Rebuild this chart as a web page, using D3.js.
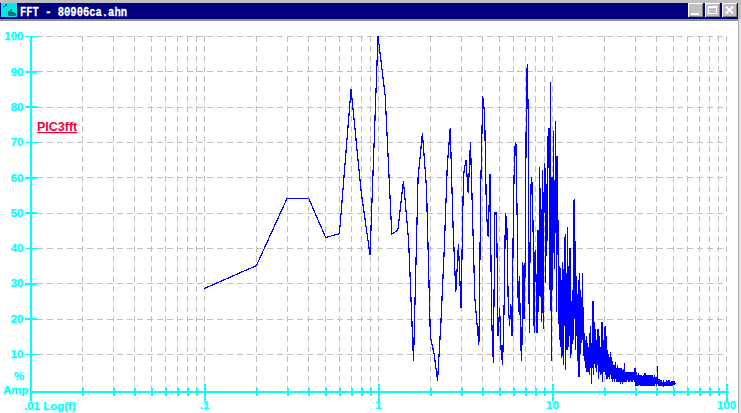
<!DOCTYPE html>
<html><head><meta charset="utf-8">
<script src="https://cdn.jsdelivr.net/npm/d3@7/dist/d3.min.js"></script>
<style>html,body{margin:0;padding:0;background:#fff;overflow:hidden}svg{display:block}</style>
</head><body><svg id="c" width="741" height="413"></svg>
<script>
const titleText = "FFT - 80906ca.ahn";
const seriesName = "PIC3fft";
const freqStep = 0.1;
const amplitudes = [
28.5,35,54,54,43,44,85,56,38,100,
83,44,45,59,42,8,60,72.5,57,15,
10,2.5,19,39,63,74,46,27.5,41,23,
60.6,65,55.5,70,48,26,19,12.5,58.6,83,
78,50,43,61,20,7.5,50,50,15,23,
11,7,22,50,47,25,18,24,15,51,
68,70,50,22,32,13,8,36,20,33,
73,92,78,16,46,60,58,43,16,39.5,
31,16,45,22,63,36,19,62,17,55,
64,30,58,42,72,74,28,87,8,60,
28,73,34,55,76,22,66,38,48,14,
35,12,31,9,36,7,34,18,44,5.5,
33,11,46,12,35,15,40,9,25,10,
28,14,38,54,20,42,11,32,15,27,
8,31,3.5,33,10,28,13,26,14,33,
15,22,9,16,8,14,6,15,5,13,
8,12,5,16,4,18,6,13,1.5,11,
6,25,4,18,10,19,6,17,8,14,
5,14,8,17,3,13,7,15,5,12,
4,16,6,19,2,15,8,13,5,14,
7,18,4,12,6,15,3,11,6,10,
5,9,3,8,5,10.5,4,8,3,9,
5,8,2,7,4,6,3,7,2,6,
4,7.7,3,6,2,5,3,7,2,5,
4,6,2,5,3,6,1.5,5,3,6,
2,4.5,3,5,1.5,5.5,3,4,2,7.4,
3,5,2,4.5,3,5,2,4,3,5,
2.5,4.5,3,5,2,4,3,4.5,2,5,
3,4.5,2.5,5,2,4,3,5,2.5,4.5,
2,4,3,4.5,2.5,5,2,4,3,6,
1,5.5,2,4,1,5,2,3.5,1.5,4,
1,3.5,2,4.5,1,3,2,4,1.5,3.5,
1,4,2,3,1.5,3.5,1,4,2,3,
1.5,3.5,1,4,2,3,1,3.5,2,3.5,
1,4.5,1.5,3,1,4,2,3,1,3.5,
2,4,1,3,1.5,4,1,3,2,3.5,
1,3,1.5,3.5,1,4,2,3,1,3.5,
2,3.5,1,3,1.5,4,1,3,2,3.5,
1.5,3,1,3.5,2,3,1,4,1.5,3,
2,3.5,1.5,3,2,3,1,3.5,2,3,
1.5,3,2,3.5,6.6,3,1.5,2.5,2,3,
1,2.5,1.5,3,1,2,1.5,2.5,1,2,
1.5,2,1,2.5,1,2,0.8,2,1.5,2,
1,2,0.8,1.5,1,2.5,1,1.5,0.8,2,
1,1.5,0.8,2,1,2.2,0.8,1.5,1,2,
1.2,2,1,2.5,0.8,1.5,1,2,1.2,1.5,
0.8,2,1,2.4,1,1.5,0.8,2,1.2,2.5,
1,2,0.9,1.5,1.2,2.2,1,1.8,1,2,
1.2,2,1,2.4,1.2,1.8,1,2.2,1.2,2,
1,2.2,1.2,2,1,2.4,1.3,2,1.2,2.2,
1.3,2,1.4,2.2,1.3,2,1.5,2.1,1.6,1.9];
const yTicks = [10,20,30,40,50,60,70,80,90,100];
const xMajor = [0.1,1,10,100];
const xLabels = {0.1:".1",1:"1",10:"10",100:"100"};
const xMinor = [2,3,4,5,6,7,8,9].flatMap(m=>[0.01,0.1,1,10].map(d=>+(m*d).toFixed(3)));
const xTicks = xMinor.concat(xMajor);

const CYAN="#00ffff", GRID="#c0c0c0", BLUE="#0000ff", NAVY="#000080", RED="#f0003c";
const FONT="'Liberation Sans',Arial,sans-serif";
const x = d3.scaleLog().domain([0.01,100]).range([30,726]);
const y = d3.scaleLinear().domain([0,100]).range([389.3,36]);
const axisY = 391.5;
const svg = d3.select("#c");

// window chrome
const chrome = svg.append("g").attr("shape-rendering","crispEdges");
chrome.append("rect").attr("width",741).attr("height",21).attr("fill","#c0c0c0");
chrome.append("rect").attr("x",0).attr("y",3).attr("width",738).attr("height",16).attr("fill",NAVY);
chrome.append("rect").attr("x",0).attr("y",19).attr("width",741).attr("height",2).attr("fill","#909090");
chrome.append("rect").attr("x",738).attr("y",19).attr("width",1).attr("height",394).attr("fill","#b0b0b0");
chrome.append("rect").attr("x",739).attr("y",19).attr("width",2).attr("height",394).attr("fill","#e0e0e0");
// icon
chrome.append("rect").attr("x",1).attr("y",3).attr("width",16).attr("height",14).attr("fill","#00e8e8");
[[3,6,1],[5,4,2],[8,11,5],[10,9,7],[12,12,4],[14,13,3]].forEach(([a,b,h])=>{
  chrome.append("rect").attr("x",a).attr("y",b).attr("width",2).attr("height",h).attr("fill","#007878");
});
// buttons
[688,705,722].forEach(bx=>{
  chrome.append("rect").attr("x",bx).attr("y",3).attr("width",15).attr("height",14).attr("fill","#ffffff");
  chrome.append("rect").attr("x",bx+1).attr("y",4).attr("width",14).attr("height",13).attr("fill","#808080");
  chrome.append("rect").attr("x",bx+1).attr("y",4).attr("width",13).attr("height",12).attr("fill","#c0c0c0");
});
chrome.append("rect").attr("x",691).attr("y",13).attr("width",8).attr("height",2).attr("fill","#fff");
chrome.append("rect").attr("x",708.5).attr("y",6.5).attr("width",8).attr("height",7).attr("fill","none").attr("stroke","#fff").attr("stroke-width",1);
chrome.append("rect").attr("x",708).attr("y",6).attr("width",9).attr("height",2).attr("fill","#fff");
svg.append("path").attr("d","M726 6.5L733 13.5M733 6.5L726 13.5").attr("stroke","#fff").attr("stroke-width",2).attr("fill","none");
svg.append("text").text(titleText).attr("x",20).attr("y",15.5).attr("fill","#fff").attr("stroke","#fff").attr("stroke-width",0.3)
  .attr("font-family","'Liberation Mono',monospace").attr("font-weight","bold").attr("font-size",13.5)
  .attr("textLength",107).attr("lengthAdjust","spacingAndGlyphs");

// grid
const grid = svg.append("g").attr("shape-rendering","crispEdges").attr("stroke",GRID).attr("stroke-width",1).attr("stroke-dasharray","6,4");
grid.selectAll(".h").data(yTicks).join("line").attr("x1",37).attr("x2",x(100))
  .attr("y1",d=>Math.round(y(d))+.5).attr("y2",d=>Math.round(y(d))+.5);
grid.selectAll(".v").data(xTicks).join("line").attr("y1",y(100)).attr("y2",389)
  .attr("x1",d=>x(d)).attr("x2",d=>x(d));

// data
const line = d3.line().x((d,i)=>x((i+1)*freqStep)).y(d=>y(d));
svg.append("path").datum(amplitudes).attr("d",line).attr("fill","none").attr("stroke",BLUE)
  .attr("stroke-width",1.2).attr("shape-rendering","crispEdges");

// y axis
const yAxis = svg.append("g").attr("transform","translate(30.5,0)")
  .call(d3.axisLeft(y).tickValues(yTicks).tickSize(5).tickPadding(2).tickFormat(d3.format("d")));
yAxis.select(".domain").remove();
yAxis.selectAll("line").attr("x1",-5.5).attr("x2",6.5).attr("stroke",CYAN).attr("stroke-width",1.6).attr("shape-rendering","crispEdges");
yAxis.selectAll("text").attr("fill",CYAN).attr("font-family",FONT).attr("font-weight","bold").attr("font-size",11.5).attr("stroke",CYAN).attr("stroke-width",0.25);
svg.append("rect").attr("x",30).attr("y",36).attr("width",2).attr("height",365).attr("fill",CYAN);

// x axis
const xAxis = svg.append("g").attr("transform",`translate(0,${axisY})`)
  .call(d3.axisBottom(x).tickValues(xTicks).tickSize(4).tickPadding(5.5).tickFormat(d=>xLabels[d]||""));
xAxis.select(".domain").remove();
xAxis.selectAll("line").attr("y1",-3.5).attr("y2",4.5).attr("stroke",CYAN).attr("stroke-width",2).attr("shape-rendering","crispEdges");
xAxis.selectAll(".tick").filter(d=>xMajor.includes(d)).select("line").attr("y1",-8).attr("y2",9.5);
xAxis.selectAll("text").attr("fill",CYAN).attr("font-family",FONT).attr("font-weight","bold").attr("font-size",11.5).attr("stroke",CYAN).attr("stroke-width",0.25);
svg.append("rect").attr("x",30).attr("y",391).attr("width",699).attr("height",2).attr("fill",CYAN);

// labels
const lab = (t,xx,yy,a)=>svg.append("text").text(t).attr("x",xx).attr("y",yy).attr("text-anchor",a||"start")
  .attr("fill",CYAN).attr("stroke",CYAN).attr("stroke-width",0.25).attr("font-family",FONT).attr("font-weight","bold").attr("font-size",11.5);
lab(".01 Log(f)",24,410);
lab("%",14,380);
lab("Amp",3,394);
svg.append("text").text(seriesName).attr("x",37).attr("y",131).attr("fill",RED)
  .attr("font-family",FONT).attr("font-weight","bold").attr("font-size",12.5).attr("text-decoration","underline");
</script></body></html>
